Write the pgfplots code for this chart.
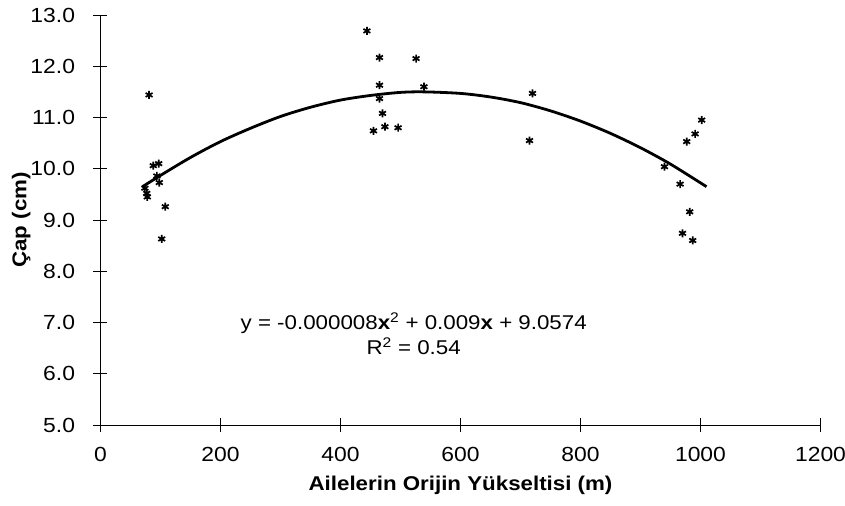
\documentclass[border=0pt]{standalone}
\usepackage{fontspec}
\setmainfont[FakeStretch=1.12]{Liberation Sans}
\usepackage{pgfplots}
\pgfplotsset{compat=1.18}
\begin{document}
\begin{tikzpicture}
\useasboundingbox (-100.5bp,-81bp) rectangle (744.5bp,425bp);
\begin{axis}[
  at={(0,0)}, anchor=south west,
  scale only axis, width=720bp, height=410bp,
  xmin=0, xmax=1200, ymin=5, ymax=13,
  axis x line*=bottom, axis y line*=left,
  axis line style={-, black, line width=1bp},
  xtick={0,200,...,1200}, ytick={5,6,...,13},
  tick align=center, major tick length=14bp,
  tick style={black, line width=0.9bp},
  xticklabel={\fontsize{20.5}{24}\selectfont\pgfmathprintnumber[assume math mode=true,1000 sep={}]{\tick}},
  yticklabel={\fontsize{20.5}{24}\selectfont\pgfmathprintnumber[assume math mode=true,fixed,fixed zerofill,precision=1]{\tick}},
  xticklabel style={anchor=north, yshift=-12bp},
  yticklabel style={anchor=east, xshift=-15bp},
  label style={font=\fontsize{20}{24}\selectfont\bfseries},
  xlabel={Ailelerin Orijin Yükseltisi (m)},
  ylabel={Çap (cm)},
  xlabel style={at={(axis description cs:0.5,-0.148)}, anchor=center},
  ylabel style={at={(axis description cs:-0.11,0.5)}, anchor=center},
  clip=false,
]
% fitted trend curve
\addplot[black, line width=2.8bp, smooth] coordinates {
(70,9.65) (100,9.87) (150,10.22) (200,10.53) (250,10.79) (300,11.02)
(350,11.20) (400,11.34) (450,11.43) (500,11.49) (540,11.50) (600,11.47)
(650,11.40) (700,11.29) (750,11.13) (800,10.93) (850,10.69) (900,10.41)
(950,10.09) (1010,9.65)};
% observations
\addplot[only marks, black, mark=asterisk, mark size=4bp, mark options={line width=1.7bp}] coordinates {
(81,11.44) (88,10.06) (97,10.10) (94,9.86) (98,9.73) (74,9.62) (77,9.52) (78,9.45) (108,9.26) (102,8.63)
(444,12.69) (465,12.17) (526,12.15) (465,11.63) (539,11.60) (465,11.37) (470,11.08) (455,10.74) (474,10.82) (496,10.80)
(720,11.47) (715,10.55)
(1002,10.95) (991,10.68) (977,10.53) (940,10.04) (966,9.70) (982,9.16) (970,8.74) (987,8.60)};
\node[font=\fontsize{20}{25}\selectfont, align=center] at (axis cs:522,6.78)
 {y = -0.000008\textbf{x}\textsuperscript{2} + 0.009\textbf{x} + 9.0574\\R\textsuperscript{2} = 0.54};
\end{axis}
\end{tikzpicture}
\end{document}
